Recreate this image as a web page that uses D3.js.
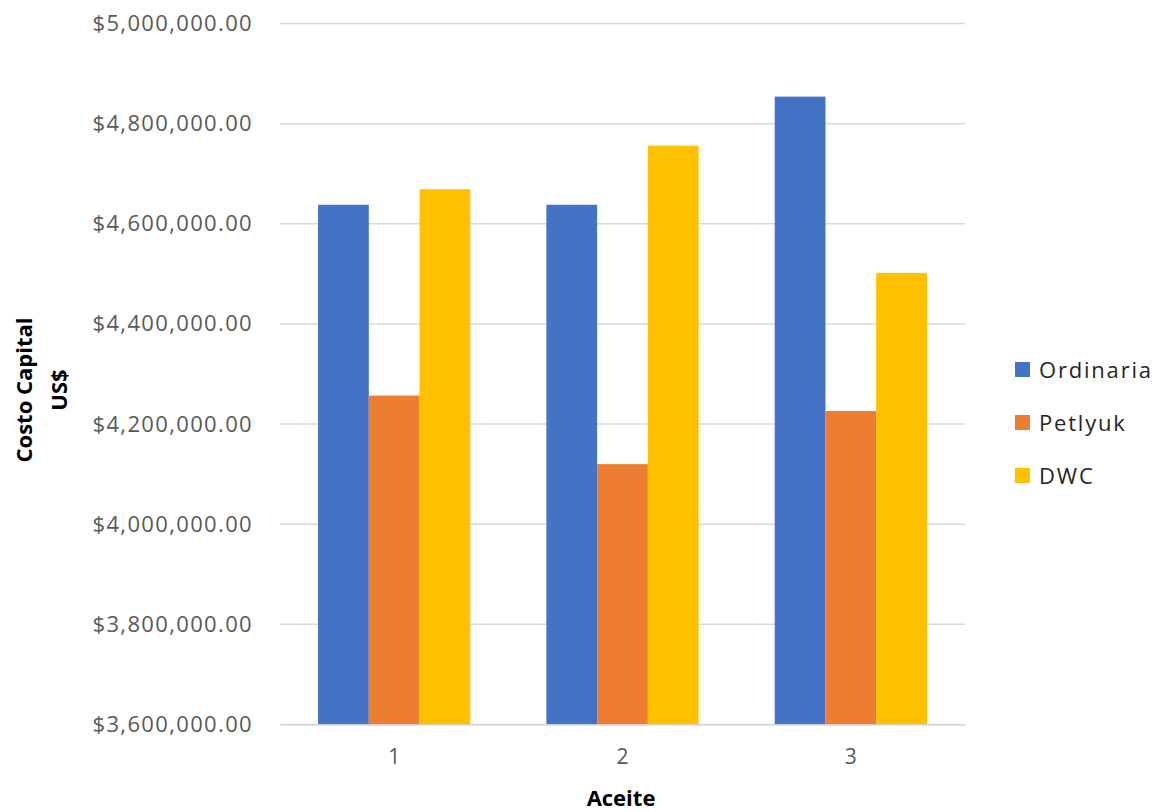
<!DOCTYPE html>
<html>
<head>
<meta charset="utf-8">
<script src="https://cdn.jsdelivr.net/npm/d3@7"></script>
<style>
  html, body { margin: 0; padding: 0; background: #fff; }
  svg { display: block; }
</style>
</head>
<body>
<svg id="chart" width="1163" height="812"></svg>
<script>
// Capital cost by oil case for three column configurations
const categories = ["1", "2", "3"];
const seriesNames = ["Ordinaria", "Petlyuk", "DWC"];
const ordinaria = [4638000, 4638000, 4854000];
const petlyuk   = [4257000, 4120000, 4226000];
const dwc       = [4669000, 4756000, 4502000];
const yTicks = [3600000, 3800000, 4000000, 4200000, 4400000, 4600000, 4800000, 5000000];
const colors = ["#4472C4", "#ED7D31", "#FFC000"];

const seriesValues = [ordinaria, petlyuk, dwc];

const svg = d3.select("#chart");
const plot = { left: 280, right: 965, top: 23.5, bottom: 724.5 };

const y = d3.scaleLinear()
  .domain([3600000, 5000000])
  .range([plot.bottom, plot.top]);

const x0 = d3.scaleBand()
  .domain(categories)
  .range([plot.left, plot.right])
  .padding(0);

// bar width = band / 4.5 (gap 150% of a bar, split on both sides)
const barW = x0.bandwidth() / 4.5;
const x1 = d3.scaleBand()
  .domain(seriesNames)
  .range([0.75 * barW, x0.bandwidth() - 0.75 * barW])
  .padding(0);

const fmt = v => "$" + d3.format(",.2f")(v);

// gridlines
svg.append("g")
  .selectAll("line")
  .data(yTicks)
  .join("line")
  .attr("x1", plot.left)
  .attr("x2", plot.right)
  .attr("y1", d => y(d))
  .attr("y2", d => y(d))
  .attr("stroke", "#d9d9d9")
  .attr("stroke-width", 1.5);

// y axis labels
const yAxis = d3.axisLeft(y).tickValues(yTicks).tickFormat(fmt).tickSize(0).tickPadding(27);
const gy = svg.append("g")
  .attr("transform", `translate(${plot.left},0)`)
  .call(yAxis);
gy.select(".domain").remove();
gy.selectAll("text")
  .attr("font-family", "'Open Sans', sans-serif")
  .attr("font-size", 22)
  .attr("letter-spacing", 1.35)
  .attr("fill", "#595959");

// bars
const groups = svg.append("g")
  .selectAll("g")
  .data(categories)
  .join("g")
  .attr("transform", d => `translate(${x0(d)},0)`);

groups.selectAll("rect")
  .data((d, i) => seriesNames.map((s, j) => ({ s, j, v: seriesValues[j][i] })))
  .join("rect")
  .attr("x", d => x1(d.s))
  .attr("width", x1.bandwidth())
  .attr("y", d => y(d.v))
  .attr("height", d => y(3600000) - y(d.v))
  .attr("fill", d => colors[d.j]);

// x axis
const xAxis = d3.axisBottom(x0).tickSize(0).tickPadding(25);
const gx = svg.append("g")
  .attr("transform", `translate(0,${plot.bottom})`)
  .call(xAxis);
gx.select(".domain").attr("stroke", "#d9d9d9").attr("stroke-width", 1.5);
gx.selectAll("text")
  .attr("font-family", "'Open Sans', sans-serif")
  .attr("font-size", 21)
  .attr("fill", "#595959");

// axis titles
svg.append("text")
  .attr("x", 621)
  .attr("y", 806)
  .attr("text-anchor", "middle")
  .attr("font-family", "'Open Sans', sans-serif")
  .attr("font-weight", "bold")
  .attr("font-size", 22)
  .attr("fill", "#000")
  .text("Aceite");

const yTitle = svg.append("text")
  .attr("transform", "translate(32,390) rotate(-90)")
  .attr("text-anchor", "middle")
  .attr("font-family", "'Open Sans', sans-serif")
  .attr("font-weight", "bold")
  .attr("font-size", 22)
  .attr("fill", "#000");
yTitle.append("tspan").attr("x", 0).attr("y", 0).text("Costo Capital");
yTitle.append("tspan").attr("x", 0).attr("y", 35).text("US$");

// legend
const legend = svg.append("g")
  .selectAll("g")
  .data(seriesNames)
  .join("g")
  .attr("transform", (d, i) => `translate(1015,${362 + i * 53})`);
legend.append("rect")
  .attr("width", 15)
  .attr("height", 15)
  .attr("fill", (d, i) => colors[i]);
legend.append("text")
  .attr("x", 24)
  .attr("y", 15.5)
  .attr("font-family", "'Open Sans', sans-serif")
  .attr("font-size", 22)
  .attr("letter-spacing", 1.8)
  .attr("fill", "#262626")
  .text(d => d);
</script>
</body>
</html>
